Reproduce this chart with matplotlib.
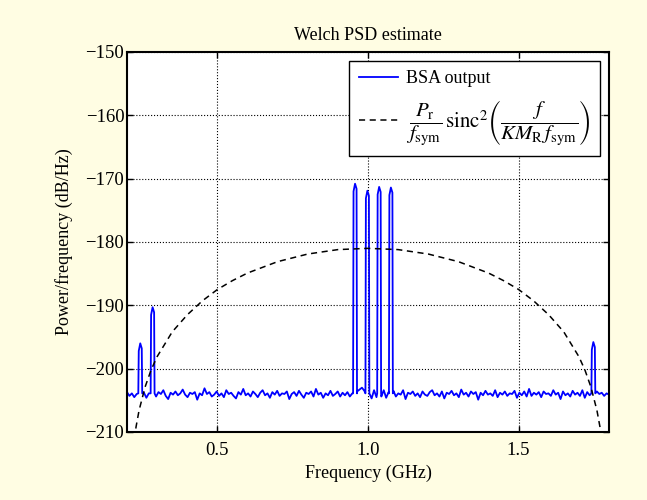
import numpy as np
import matplotlib.pyplot as plt

plt.rcParams['font.family'] = ['Liberation Serif', 'DejaVu Serif']
plt.rcParams['mathtext.fontset'] = 'stix'

# noise floor of the BSA output (dB/Hz), evenly spread over 0.2 .. 1.8 GHz
floor_db = [
    -203.7, -204.3, -203.9, -204.5, -204.0, -203.6, -204.2, -203.8, -204.6, -203.9,
    -203.5, -204.1, -204.4, -203.7, -204.0, -203.4, -204.3, -204.8, -203.8, -204.1,
    -203.6, -204.2, -203.9, -203.3, -204.1, -204.5, -203.8, -204.0, -203.7, -204.9,
    -203.9, -204.2, -203.1, -204.0, -203.7, -204.4, -204.1, -203.6, -204.3, -203.9,
    -204.5, -203.4, -204.0, -203.8, -204.3, -204.7, -203.7, -204.1, -203.2, -204.2,
    -203.9, -204.4, -203.6, -204.0, -204.5, -203.8, -203.4, -204.2, -203.9, -204.6,
    -203.7, -204.1, -203.5, -204.3, -203.9, -204.0, -203.6, -204.8, -204.0, -203.7,
    -204.3, -203.5, -204.1, -204.6, -203.8, -204.0, -203.6, -204.4, -203.2, -204.1,
    -203.8, -204.6, -203.9, -204.2, -203.5, -204.3, -204.0, -203.6, -204.4, -203.8,
    -204.2, -203.7, -204.4, -203.9, -203.4, -203.6, -203.3, -203.0, -203.5, -204.5,
    -203.3, -204.7, -203.4, -204.5, -203.3, -204.4, -203.4, -204.6, -203.7, -204.2,
    -203.5, -204.4, -203.9, -204.1, -203.4, -204.8, -203.8, -204.0, -203.6, -204.3,
    -203.9, -204.5, -203.6, -204.1, -204.3, -203.7, -203.4, -204.2, -203.9, -204.4,
    -203.6, -204.7, -203.8, -204.0, -203.5, -204.2, -203.9, -204.5, -203.3, -204.1,
    -203.8, -204.4, -203.6, -204.0, -203.7, -204.9, -203.8, -204.2, -203.5, -204.1,
    -203.9, -204.3, -203.4, -204.5, -203.8, -204.1, -203.6, -204.3, -203.9, -204.0,
    -203.5, -204.6, -203.8, -204.2, -203.6, -204.4, -203.2, -204.3, -203.8, -204.1,
    -203.7, -204.5, -203.6, -204.0, -203.9, -204.3, -203.4, -204.1, -203.8, -204.8,
    -203.6, -204.2, -203.9, -204.4, -203.5, -204.1, -203.8, -204.3, -203.4, -204.6,
    -203.7, -204.2, -203.9, -204.4, -203.6, -204.0, -203.8, -204.3, -203.9, -204.1,
]

# narrow spectral lines: centre (GHz) and peak level (dB/Hz)
peak_freq = [0.244, 0.285, 0.957, 0.998, 1.037, 1.076, 1.748]
peak_db = [-196.0, -190.3, -170.8, -171.9, -171.3, -171.4, -195.8]
peak_width = 0.013

# sinc^2 envelope
env_freq = [0.22, 0.23, 0.24, 0.26, 0.28, 0.30, 0.35, 0.40, 0.45, 0.50, 0.55,
            0.60, 0.70, 0.80, 0.90, 1.00, 1.10, 1.20, 1.30, 1.40, 1.45, 1.50,
            1.55, 1.60, 1.65, 1.70, 1.72, 1.74, 1.76, 1.77, 1.78]
env_db = [-212.8, -209.2, -206.6, -202.9, -200.2, -198.1, -194.2, -191.5, -189.3,
          -187.5, -186.1, -184.9, -183.1, -181.9, -181.2, -181.0, -181.2, -181.9,
          -183.1, -184.9, -186.1, -187.5, -189.3, -191.5, -194.2, -198.1, -200.2,
          -202.9, -206.6, -209.2, -212.8]

f = np.linspace(0.2, 1.8, len(floor_db))
p = np.array(floor_db)
for c, top in zip(peak_freq, peak_db):
    lo, hi = c - peak_width / 2, c + peak_width / 2
    keep = (f < lo) | (f > hi)
    f, p = f[keep], p[keep]
    base = np.interp(c, f, p)
    f = np.concatenate([f, [lo, lo + 0.0015, c, hi - 0.0015, hi]])
    p = np.concatenate([p, [base, top - 1.2, top, top - 0.8, base]])
order = np.argsort(f)
f, p = f[order], p[order]

fig = plt.figure(figsize=(6.47, 5.0), dpi=100, facecolor='#fffde3')
ax = fig.add_axes([127 / 647, 1 - 432 / 500, 482 / 647, 380 / 500])

ax.plot(f, p, color='#0000ff', lw=1.3, label='BSA output')
ax.plot(env_freq, env_db, color='black', lw=1.1, ls=(0, (4, 3)),
        label=r'$\dfrac{P_\mathrm{r}}{f_\mathrm{sym}}\,\mathrm{sinc}^2\left(\dfrac{f}{KM_\mathrm{R}\,f_\mathrm{sym}}\right)$')

ax.set_xlim(0.2, 1.8)
ax.set_ylim(-210, -150)
ax.set_xticks([0.5, 1.0, 1.5])
ax.set_yticks(np.arange(-210, -149, 10))
ax.grid(True, color='black', ls=':', lw=0.8)
ax.tick_params(direction='in', top=True, right=True, labelsize=13.5, length=4,
               width=1, pad=2)
ax.tick_params(axis='x', pad=7)
for s in ax.spines.values():
    s.set_linewidth(1.5)

ax.set_title('Welch PSD estimate', fontsize=13, pad=9)
ax.set_xlabel('Frequency (GHz)', fontsize=13, labelpad=4)
ax.set_ylabel('Power/frequency (dB/Hz)', fontsize=13, labelpad=9)

leg = ax.legend(loc='upper right', fontsize=13, fancybox=False, framealpha=1,
                edgecolor='black', borderaxespad=0.5, handlelength=2.2,
                borderpad=0.5, labelspacing=0.6, handletextpad=0.45)
leg.get_texts()[1].set_fontsize(15)
leg.get_frame().set_linewidth(1.0)

fig.savefig('out.png', dpi=100, facecolor=fig.get_facecolor())
